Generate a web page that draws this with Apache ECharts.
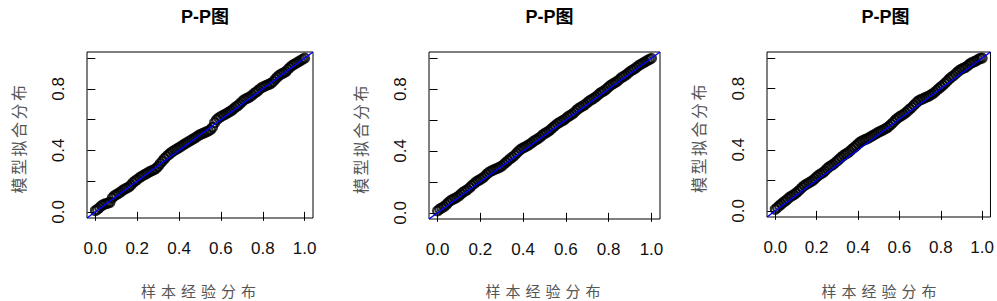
<!DOCTYPE html>
<html>
<head>
<meta charset="utf-8">
<script src="https://cdn.jsdelivr.net/npm/echarts@6.0.0/dist/echarts.min.js"></script>
<style>
html,body{margin:0;padding:0;background:#fff;}
#chart{width:997px;height:301px;}
</style>
</head>
<body>
<div id="chart"></div>
<script>
// ---- data ----
var panelTitles = ['P-P图', 'P-P图', 'P-P图'];
var xName = '样本经验分布';
var yName = '模型拟合分布';
var xTicks = [0, 0.2, 0.4, 0.6, 0.8, 1.0];
var yTicks = [0, 0.2, 0.4, 0.6, 0.8, 1.0];
var yTickLabels = [0, 0.4, 0.8];
var refLine = [[-0.04, -0.04], [1.04, 1.04]];

var empirical = [
0.00,0.01,0.02,0.03,0.04,0.05,0.06,0.07,0.08,0.09,
0.10,0.11,0.12,0.13,0.14,0.15,0.16,0.17,0.18,0.19,
0.20,0.21,0.22,0.23,0.24,0.25,0.26,0.27,0.28,0.29,
0.30,0.31,0.32,0.33,0.34,0.35,0.36,0.37,0.38,0.39,
0.40,0.41,0.42,0.43,0.44,0.45,0.46,0.47,0.48,0.49,
0.50,0.51,0.52,0.53,0.54,0.55,0.56,0.57,0.58,0.59,
0.60,0.61,0.62,0.63,0.64,0.65,0.66,0.67,0.68,0.69,
0.70,0.71,0.72,0.73,0.74,0.75,0.76,0.77,0.78,0.79,
0.80,0.81,0.82,0.83,0.84,0.85,0.86,0.87,0.88,0.89,
0.90,0.91,0.92,0.93,0.94,0.95,0.96,0.97,0.98,0.99,
1.00];

var fitted1 = [
0.008,0.016,0.028,0.040,0.048,0.054,0.056,0.062,0.090,0.104,
0.112,0.120,0.128,0.140,0.148,0.154,0.162,0.174,0.190,0.202,
0.210,0.222,0.230,0.238,0.246,0.254,0.262,0.268,0.274,0.282,
0.296,0.314,0.330,0.346,0.360,0.372,0.384,0.394,0.402,0.410,
0.418,0.426,0.436,0.444,0.452,0.460,0.468,0.476,0.484,0.494,
0.502,0.508,0.514,0.520,0.526,0.534,0.550,0.580,0.600,0.612,
0.620,0.628,0.634,0.642,0.650,0.658,0.670,0.682,0.690,0.702,
0.716,0.728,0.736,0.742,0.750,0.760,0.772,0.780,0.792,0.804,
0.812,0.818,0.824,0.830,0.836,0.848,0.864,0.878,0.890,0.898,
0.904,0.912,0.926,0.940,0.952,0.960,0.968,0.976,0.984,0.992,
1.000];

var fitted2 = [
0.012,0.024,0.032,0.040,0.052,0.066,0.078,0.086,0.092,0.100,
0.110,0.122,0.134,0.142,0.150,0.162,0.176,0.188,0.200,0.208,
0.216,0.224,0.236,0.250,0.262,0.270,0.276,0.282,0.288,0.294,
0.302,0.314,0.326,0.338,0.350,0.360,0.372,0.386,0.400,0.412,
0.420,0.426,0.434,0.442,0.452,0.464,0.472,0.480,0.490,0.502,
0.512,0.520,0.528,0.540,0.552,0.564,0.576,0.584,0.592,0.600,
0.610,0.622,0.630,0.638,0.650,0.664,0.676,0.684,0.692,0.700,
0.712,0.724,0.732,0.740,0.750,0.762,0.774,0.782,0.790,0.802,
0.814,0.826,0.834,0.842,0.850,0.862,0.874,0.882,0.890,0.902,
0.914,0.922,0.930,0.940,0.952,0.960,0.968,0.976,0.984,0.992,
0.998];

var fitted3 = [
0.010,0.022,0.034,0.046,0.058,0.066,0.078,0.090,0.098,0.106,
0.116,0.128,0.140,0.154,0.166,0.174,0.182,0.190,0.198,0.210,
0.222,0.234,0.242,0.250,0.262,0.276,0.288,0.296,0.304,0.316,
0.328,0.340,0.352,0.364,0.372,0.380,0.390,0.402,0.414,0.426,
0.438,0.450,0.458,0.464,0.470,0.476,0.484,0.492,0.500,0.508,
0.516,0.522,0.528,0.536,0.544,0.554,0.566,0.580,0.594,0.606,
0.616,0.624,0.632,0.642,0.654,0.666,0.678,0.692,0.706,0.718,
0.726,0.732,0.738,0.744,0.750,0.758,0.766,0.776,0.788,0.800,
0.812,0.822,0.834,0.848,0.862,0.874,0.884,0.896,0.908,0.920,
0.928,0.934,0.940,0.950,0.962,0.970,0.976,0.982,0.990,0.998,
1.000];

var fittedAll = [fitted1, fitted2, fitted3];

// ---- layout ----
var grids = [
  {left: 87, top: 52, width: 226, height: 166},
  {left: 429, top: 52, width: 231, height: 167},
  {left: 767, top: 52, width: 227, height: 165}
];

var latin = "'Liberation Sans', Arial, 'Noto Sans CJK SC', sans-serif";
var cjk = "'Noto Sans CJK SC', sans-serif";

var option = {
  backgroundColor: '#ffffff',
  animation: false,
  title: [],
  grid: [],
  xAxis: [],
  yAxis: [],
  series: [],
  graphic: []
};

grids.forEach(function (g, i) {
  var cx = g.left + g.width / 2;
  option.grid.push({
    left: g.left, top: g.top, width: g.width, height: g.height,
    show: true, borderColor: '#000', borderWidth: 1, backgroundColor: 'transparent'
  });
  option.title.push({
    text: panelTitles[i],
    left: cx, top: 3, textAlign: 'center',
    textStyle: {fontFamily: latin, fontWeight: 'bold', fontSize: 18, color: '#000'}
  });
  option.xAxis.push({
    type: 'value', gridIndex: i, min: -0.04, max: 1.04,
    axisLine: {show: false},
    splitLine: {show: false},
    axisTick: {show: true, inside: false, length: 9, customValues: xTicks, lineStyle: {color: '#000', width: 1}},
    axisLabel: {
      customValues: xTicks, margin: 22, fontFamily: latin, fontSize: 17, color: '#111',
      formatter: function (v) { return Number(v).toFixed(1); }
    }
  });
  option.yAxis.push({
    type: 'value', gridIndex: i, min: -0.04, max: 1.04,
    axisLine: {show: false},
    splitLine: {show: false},
    axisTick: {show: true, inside: false, length: 8, customValues: yTicks, lineStyle: {color: '#000', width: 1}},
    axisLabel: {
      customValues: yTickLabels, margin: 20, rotate: 90, fontFamily: latin, fontSize: 17, color: '#111',
      formatter: function (v) { return Number(v).toFixed(1); }
    }
  });
  var pts = empirical.map(function (x, k) { return [x, fittedAll[i][k]]; });
  option.series.push({
    type: 'scatter', xAxisIndex: i, yAxisIndex: i,
    data: pts, symbol: 'circle', symbolSize: 9,
    itemStyle: {color: 'rgba(0,0,0,0)', borderColor: '#000', borderWidth: 2.2},
    z: 2, silent: true
  });
  option.series.push({
    type: 'line', xAxisIndex: i, yAxisIndex: i,
    data: refLine, symbol: 'none',
    lineStyle: {color: '#0000ff', width: 1.5},
    z: 3, silent: true
  });
  option.graphic.push({
    type: 'text', x: g.left - 69, y: g.top + g.height / 2 + 3, rotation: Math.PI / 2,
    style: {text: yName, font: '16px ' + cjk, fill: '#555', textAlign: 'center', textVerticalAlign: 'middle'}
  });
  option.graphic.push({
    type: 'text', x: cx + 1, y: 290,
    style: {text: xName, font: '15px ' + cjk, fill: '#555', textAlign: 'center', textVerticalAlign: 'middle'}
  });
});

var chart = echarts.init(document.getElementById('chart'), null, {renderer: 'svg'});
function spaceNames() {
  var texts = document.querySelectorAll('#chart svg text');
  texts.forEach(function (t) {
    if (t.textContent === xName) {
      t.setAttribute('letter-spacing', '5');
    } else if (t.textContent === yName) {
      t.setAttribute('letter-spacing', '2.5');
    }
  });
}
chart.on('finished', spaceNames);
chart.setOption(option);
spaceNames();
</script>
</body>
</html>
